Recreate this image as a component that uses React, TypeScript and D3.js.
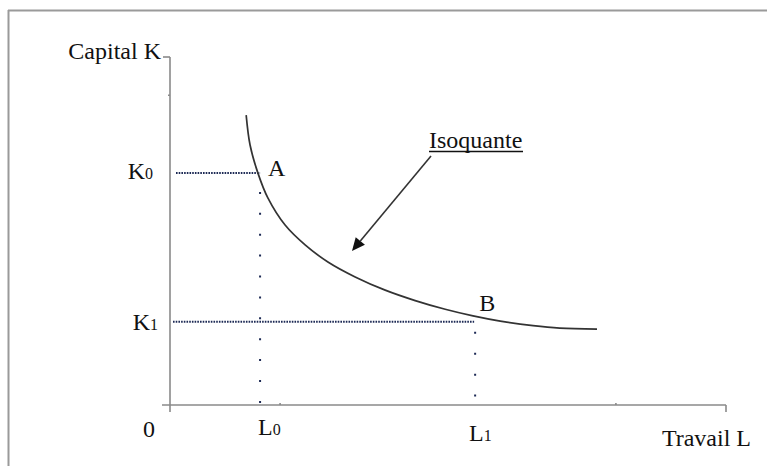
import React from "react";
import * as d3 from "d3";

// Isoquant curve (L, K) in arbitrary units (0..100)
const isoL = [13.7, 14.4, 15.8, 17.6, 20.7, 24.3, 28.4, 33.3, 38.7, 44.1, 49.5, 54.5, 59.4, 65.3, 70.1, 76.8];
const isoK = [83.3, 74.7, 66.7, 59.5, 51.7, 46.0, 41.1, 36.8, 33.0, 30.0, 27.5, 25.6, 24.1, 22.8, 22.1, 21.8];

// Points A and B
const pointNames = ["A", "B"];
const pointL = [16.2, 54.7];
const pointK = [66.7, 23.9];
const kLabels = ["K", "K"];
const kSubs = ["0", "1"];
const lLabels = ["L", "L"];
const lSubs = ["0", "1"];

const W = 767;
const H = 466;
const FONT = "'Liberation Serif', 'Times New Roman', serif";
const DOT = "#1d2a55";

export default function App() {
  const x = d3.scaleLinear().domain([0, 100]).range([170, 726]);
  const y = d3.scaleLinear().domain([0, 100]).range([405, 57]);

  const pts: [number, number][] = isoL.map((l, i) => [l, isoK[i]]);
  const line = d3
    .line<[number, number]>()
    .x((d) => x(d[0]))
    .y((d) => y(d[1]))
    .curve(d3.curveCatmullRom.alpha(0.5));

  const x0 = x(0);
  const y0 = y(0);
  const yTop = y(100);
  const xEnd = x(100);

  // arrow
  const ax1 = 431, ay1 = 156, ax2 = 352, ay2 = 251;
  const ang = Math.atan2(ay2 - ay1, ax2 - ax1);
  const hl = 13, hw = 6;
  const bx = ax2 - hl * Math.cos(ang);
  const by = ay2 - hl * Math.sin(ang);
  const head = [
    [ax2, ay2],
    [bx + hw * Math.sin(ang), by - hw * Math.cos(ang)],
    [bx - hw * Math.sin(ang), by + hw * Math.cos(ang)],
  ]
    .map((p) => p.join(","))
    .join(" ");

  const kBase = [6, 8];
  const kEnd = [153, 158];
  const lStart = [258, 469];
  const lBase = [435, 441];
  const vStart = [19, 10];

  return (
    <svg
      width={W}
      height={H}
      style={{ position: "absolute", left: 0, top: 0, background: "#fff" }}
      fontFamily={FONT}
    >
      {/* frame */}
      <line x1={8} y1={10.5} x2={W} y2={10.5} stroke="#9a9a9a" strokeWidth={2} />
      <line x1={8.5} y1={10} x2={8.5} y2={H} stroke="#9a9a9a" strokeWidth={2} />

      {/* axes */}
      <g stroke="#8a8a8a" strokeWidth={1.6} fill="none">
        <line x1={x0} y1={yTop} x2={x0} y2={412} />
        <line x1={163} y1={yTop} x2={x0} y2={yTop} />
        <line x1={168} y1={y(89)} x2={x0} y2={y(89)} />
        <line x1={162} y1={y0} x2={xEnd} y2={y0} />
        <line x1={xEnd} y1={y0} x2={xEnd} y2={412} />
        <line x1={x(19.8)} y1={y0 - 2} x2={x(19.8)} y2={y0} />
        <line x1={x(80.2)} y1={y0 - 2} x2={x(80.2)} y2={y0} />
      </g>

      {/* dotted guides */}
      {pointL.map((l, i) => (
        <g key={"g" + i}>
          <line
            x1={x0 + 6 - i * 3}
            y1={y(pointK[i])}
            x2={x(l)}
            y2={y(pointK[i])}
            stroke={DOT}
            strokeWidth={2}
            strokeDasharray="1.6,1.1"
          />
          <line
            x1={x(l) + (i === 0 ? 0 : 1)}
            y1={y(pointK[i]) + vStart[i]}
            x2={x(l) + (i === 0 ? 0 : 1)}
            y2={y0}
            stroke={DOT}
            strokeWidth={2}
            strokeDasharray="2,18.9"
          />
        </g>
      ))}

      {/* isoquant */}
      <path d={line(pts) || ""} fill="none" stroke="#333" strokeWidth={1.7} />

      {/* arrow */}
      <line x1={ax1} y1={ay1} x2={bx} y2={by} stroke="#333" strokeWidth={1.6} />
      <polygon points={head} fill="#111" />

      {/* texts */}
      <g fill="#111" fontSize={24}>
        <text x={161} y={59} textAnchor="end">Capital K</text>
        <text x={751} y={446} textAnchor="end">Travail L</text>
        <text x={155} y={437} textAnchor="end">0</text>
        <text x={429} y={148}>Isoquante</text>
        <line x1={429} y1={151.5} x2={523} y2={151.5} stroke="#111" strokeWidth={1.3} />
        {pointNames.map((n, i) => (
          <text key={n} x={x(pointL[i]) + (i === 0 ? 8 : 5)} y={i === 0 ? 176 : 311}>
            {n}
          </text>
        ))}
        {kLabels.map((k, i) => (
          <text key={"k" + i} x={kEnd[i]} y={y(pointK[i]) + kBase[i]} textAnchor="end">
            {k}
            <tspan fontSize={16}>{kSubs[i]}</tspan>
          </text>
        ))}
        {lLabels.map((l, i) => (
          <text key={"l" + i} x={lStart[i]} y={lBase[i]}>
            {l}
            <tspan fontSize={16}>{lSubs[i]}</tspan>
          </text>
        ))}
      </g>
    </svg>
  );
}
